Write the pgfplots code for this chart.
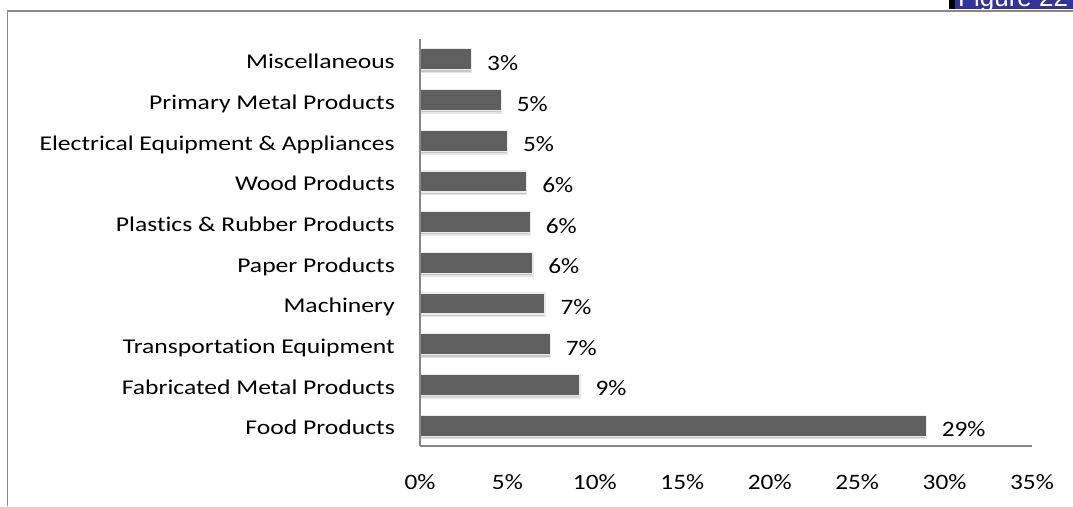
\documentclass[border=0pt]{standalone}
\usepackage{pgfplots}
\pgfplotsset{compat=1.18}
\usepackage{fontspec}
\setmainfont{Carlito}
\newfontfamily\catfont[FakeStretch=1.22,Ligatures={NoCommon}]{Carlito}
\newfontfamily\numfont[FakeStretch=1.15]{Carlito}
\newfontfamily\figfont{Liberation Sans}
\definecolor{barfill}{HTML}{5F5F5F}
\definecolor{axgray}{HTML}{878787}
\definecolor{figblue}{HTML}{333399}

\pgfplotstableread{
y val label
0 28.95 29
1 9.15 9
2 7.45 7
3 7.15 7
4 6.45 6
5 6.30 6
6 6.10 6
7 5.00 5
8 4.65 5
9 2.95 3
}\bardata

\begin{document}
\begin{tikzpicture}
\useasboundingbox (0pt,0pt) rectangle (1073pt,-506pt);
\draw[line width=1.6pt, color=axgray] (7.5pt,-506pt) -- (7.5pt,-10.7pt) -- (1073pt,-10.7pt);
\fill[black] (949pt,0pt) rectangle (955pt,-9.3pt);
\begin{scope}
\clip (955pt,0pt) rectangle (1073pt,-9.3pt);
\fill[figblue] (955pt,0pt) rectangle (1073pt,-9.3pt);
\node[anchor=base west, inner sep=0pt, text=white, font=\figfont\fontsize{26}{30}\selectfont] at (958pt,-6pt) {Figure 22};
\end{scope}
\begin{axis}[
  at={(420pt,-446pt)}, anchor=south west, scale only axis,
  width=612pt, height=407pt,
  xmin=0, xmax=35, ymin=-0.5, ymax=9.5,
  xbar, bar width=21pt,
  axis on top=true,
  axis x line*=bottom, axis y line*=left,
  axis line style={axgray, line width=1.8pt, -},
  major tick length=0pt,
  xtick={0,5,10,15,20,25,30,35},
  xticklabels={0\%,5\%,10\%,15\%,20\%,25\%,30\%,35\%},
  ytick={0,1,2,3,4,5,6,7,8,9},
  yticklabels={Food Products,Fabricated Metal Products,Transportation Equipment,Machinery,Paper Products,Plastics \& Rubber Products,Wood Products,Electrical Equipment \& Appliances,Primary Metal Products,Miscellaneous},
  xticklabel style={anchor=base, inner sep=0pt, yshift=-43pt, font=\numfont\fontsize{22}{26}\selectfont},
  yticklabel style={anchor=base east, inner sep=0pt, xshift=-25pt, yshift=-9.3pt, font=\catfont\fontsize{21}{25}\selectfont},
  clip=false,
]
\addplot[xbar, bar shift=-2.5pt, fill=black!22, draw=black!10, line width=1.5pt] table[x=val, y=y] {\bardata};
\addplot[xbar, bar shift=0pt, fill=barfill, draw=black!8, line width=1.2pt,
  point meta=explicit symbolic,
  nodes near coords={\pgfplotspointmeta\%},
  every node near coord/.style={anchor=base west, inner sep=0pt, xshift=15pt, yshift=-11pt, text=black, font=\numfont\fontsize{22}{26}\selectfont}]
  table[x=val, y=y, meta=label] {\bardata};
\end{axis}
\end{tikzpicture}
\end{document}
